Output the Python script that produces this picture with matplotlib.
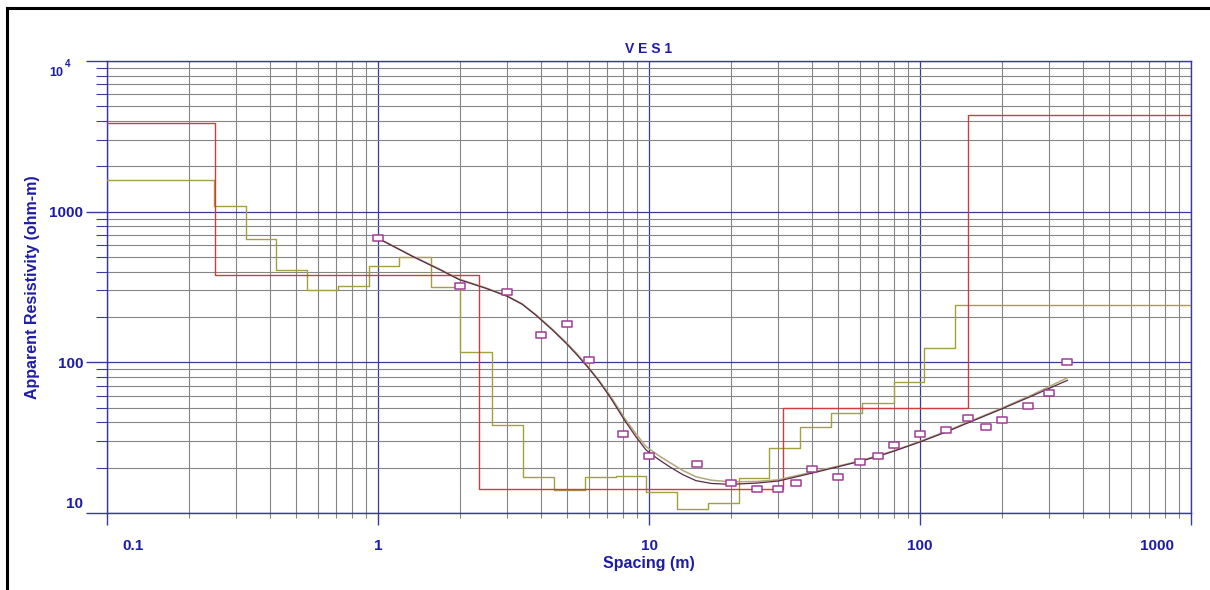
import matplotlib
matplotlib.use("Agg")
import matplotlib.pyplot as plt
import numpy as np
from matplotlib.path import Path
from matplotlib.transforms import ScaledTranslation, blended_transform_factory
from matplotlib.ticker import LogLocator, NullFormatter
from matplotlib.lines import Line2D

plt.rcParams['font.family'] = ['Liberation Sans', 'DejaVu Sans']

# layered model (red), step edges in m, resistivity in ohm-m
model_x = [0.1, 0.25, 2.35, 31.2, 150, 1000]
model_rho = [3900, 378, 14.4, 49.5, 4400]

# equivalent / smoothed model (olive steps)
multi_x = [0.1, 0.249, 0.326, 0.420, 0.545, 0.71, 0.923, 1.198, 1.57, 2.01,
           2.635, 3.44, 4.45, 5.8, 7.55, 9.75, 12.7, 16.5, 21.4, 27.8,
           36.2, 47, 60.9, 79.9, 103.7, 135, 1000]
multi_rho = [1625, 1091, 662, 407, 303, 319, 433, 502, 316, 118,
             38.2, 17.3, 14.2, 17.3, 17.7, 13.7, 10.7, 11.7, 17.2, 27.0,
             37.5, 46, 53.6, 74.2, 124.8, 241]

# field measurements
obs_ab = [1, 2, 3, 4, 5, 6, 8, 10, 15, 20, 25, 30, 35, 40, 50, 60, 70, 80,
          100, 125, 150, 175, 200, 250, 300, 350]
obs_rho = [671, 322, 291, 153, 179, 104, 33.5, 23.9, 21, 15.8, 14.5, 14.5,
           15.9, 19.6, 17.4, 21.7, 24, 28.4, 33.3, 35.6, 42.6, 37.5, 41.3,
           51.6, 62.7, 100]

# calculated curves
calc_ab = [1, 1.34, 1.7, 2, 2.5, 3, 3.4, 3.83, 4.4, 4.94, 5.4, 6, 6.5, 7.13,
           7.6, 8.11, 8.9, 9.75, 10.8, 11.9, 13.3, 14.9, 17, 20, 25, 30, 40,
           50, 60, 70, 80, 100, 125, 150, 200, 260, 350]
calc1_rho = [665, 505, 410, 353, 310, 274, 243, 205, 164, 134, 113, 91, 76,
             60, 50, 41.5, 32.5, 26.2, 22.8, 20.3, 18.0, 16.4, 15.7, 15.5,
             15.8, 16.3, 18.4, 20.3, 22.0, 23.8, 25.7, 29.6, 34.5, 39.6, 49.0,
             60, 76]
calc2_rho = [668, 508, 413, 356, 312, 276, 245, 207, 166, 136, 115, 92, 77,
             61.5, 51.5, 42.8, 34, 27.6, 24.2, 21.7, 19.2, 17.4, 16.5, 16.1,
             16.2, 16.6, 18.7, 20.5, 22.2, 24.0, 25.9, 29.9, 34.9, 40.0, 49.6,
             61, 79]

blue = '#3a3a9e'
txt = '#1c1ca8'
gray = '#858585'

fig = plt.figure(figsize=(12.1, 5.9), dpi=100)
ax = fig.add_axes([107 / 1210, 77 / 590, 1084 / 1210, 452 / 590])

ax.set_xscale('log')
ax.set_yscale('log')
ax.set_xlim(0.1, 1000)
ax.set_ylim(10, 10000)

ax.xaxis.set_minor_locator(LogLocator(base=10, subs=np.arange(2, 10)))
ax.yaxis.set_minor_locator(LogLocator(base=10, subs=np.arange(2, 10)))
ax.xaxis.set_minor_formatter(NullFormatter())
ax.yaxis.set_minor_formatter(NullFormatter())

ax.set_axisbelow(True)
ax.grid(True, which='major', color=blue, linewidth=0.9)
ax.grid(True, which='minor', color=gray, linewidth=0.8)
for s in ax.spines.values():
    s.set_color(blue)
    s.set_linewidth(1.0)

ax.tick_params(axis='x', which='major', length=8.6, width=1, color=blue, pad=10,
               labelsize=11, labelcolor=txt)
ax.tick_params(axis='x', which='minor', length=3.6, width=0.8, color=gray)
ax.tick_params(axis='y', which='major', length=15, width=1, color=blue, pad=2,
               labelsize=11, labelcolor=txt)
ax.tick_params(axis='y', which='minor', length=8, width=0.8, color=blue)

ax.set_xticks([0.1, 1, 10, 100, 1000], ['0.1', '1', '10', '100', '1000'])
ax.set_yticks([10, 100, 1000, 10000], ['10', '100', '1000', ''])
for lbl in ax.get_xticklabels() + ax.get_yticklabels():
    lbl.set_fontweight('bold')

# steps
ax.plot(multi_x, multi_rho + [multi_rho[-1]], drawstyle='steps-post',
        color='#a3a040', linewidth=1.0, zorder=3)
ax.plot(model_x, model_rho + [model_rho[-1]], drawstyle='steps-post',
        color='#d03c3c', linewidth=1.0, zorder=3)

# calculated curves
ax.plot(calc_ab, calc2_rho, color='#b0a878', linewidth=1.1, zorder=4)
ax.plot(calc_ab, calc1_rho, color='#5a2848', linewidth=0.9, zorder=4)

# observed data, flat rectangles
rect = Path([(-1, -0.55), (1, -0.55), (1, 0.55), (-1, 0.55), (-1, -0.55)],
            [Path.MOVETO, Path.LINETO, Path.LINETO, Path.LINETO, Path.CLOSEPOLY])
ax.plot(obs_ab, obs_rho, linestyle='none', marker=rect, markersize=7,
        markerfacecolor='white', markeredgecolor='#a03c94', markeredgewidth=1.1,
        zorder=5)

ax.set_title('V E S 1', color=txt, fontsize=10, fontweight='bold', pad=6)
ax.set_xlabel('Spacing (m)', color=txt, fontsize=11.5, fontweight='bold', labelpad=2)
ax.set_ylabel('Apparent Resistivity (ohm-m)', color=txt, fontsize=11.5,
              fontweight='bold', labelpad=7)

# 10^4 label drawn by hand like the original
trans = blended_transform_factory(ax.transAxes, ax.transData)
ax.annotate('10', xy=(0, 10000), xycoords=trans, xytext=(-44, -12),
            textcoords='offset pixels', ha='right', va='center',
            fontsize=9, fontweight='bold', color=txt, annotation_clip=False)
ax.annotate('4', xy=(0, 10000), xycoords=trans, xytext=(-37, -3),
            textcoords='offset pixels', ha='right', va='center',
            fontsize=7, fontweight='bold', color=txt, annotation_clip=False)

# shift edge labels inward / upward as in the reference
xl = ax.get_xticklabels()
xl[0].set_transform(xl[0].get_transform() + ScaledTranslation(0.26, 0, fig.dpi_scale_trans))
xl[-1].set_transform(xl[-1].get_transform() + ScaledTranslation(-0.34, 0, fig.dpi_scale_trans))
yl = ax.get_yticklabels()
yl[0].set_transform(yl[0].get_transform() + ScaledTranslation(0, 0.11, fig.dpi_scale_trans))

# black frame on top and left
fig.add_artist(Line2D([7 / 1210, 7 / 1210], [0, 1 - 8 / 590], color='black',
                      linewidth=2.2, transform=fig.transFigure))
fig.add_artist(Line2D([7 / 1210, 1], [1 - 8 / 590, 1 - 8 / 590], color='black',
                      linewidth=2.2, transform=fig.transFigure))

fig.savefig('out.png', dpi=100)
